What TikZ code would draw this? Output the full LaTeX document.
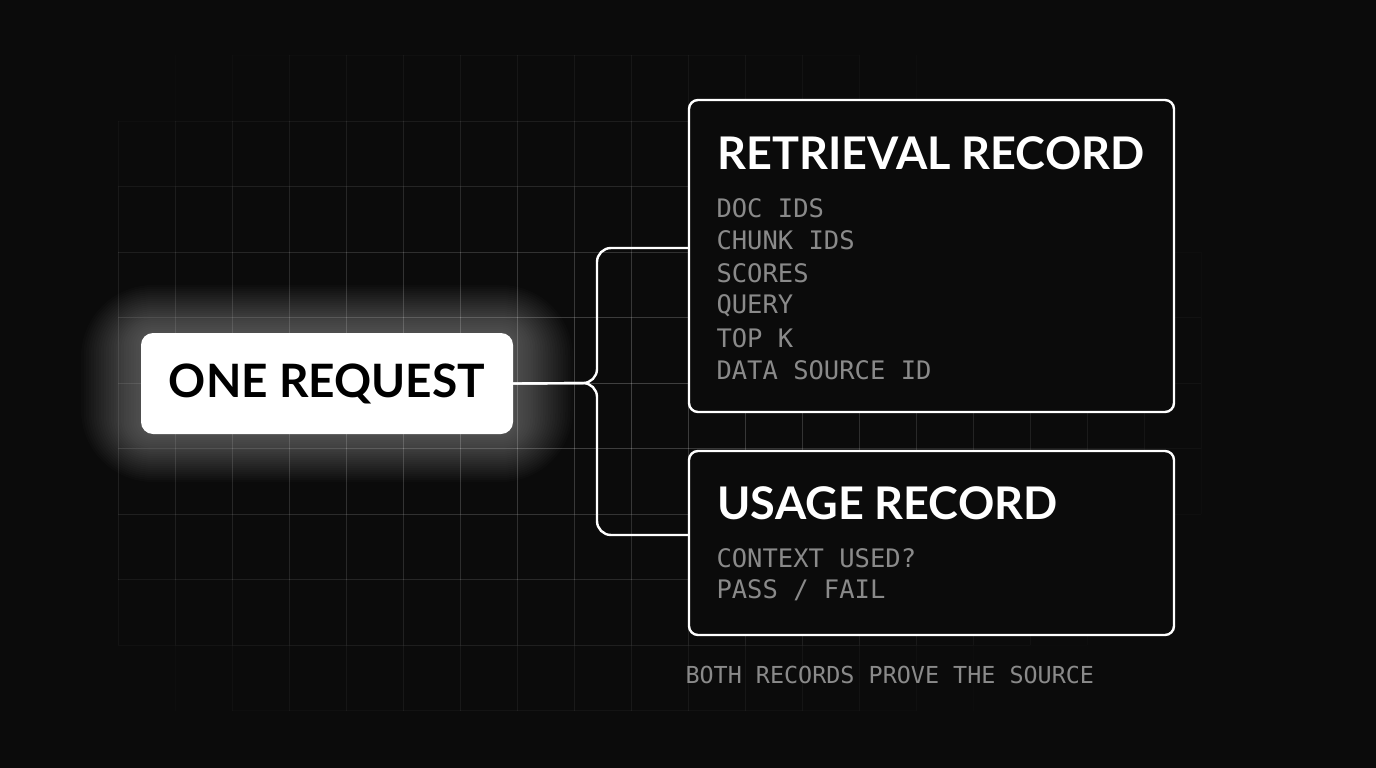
\documentclass[tikz,border=0pt]{standalone}
\usepackage{fontspec}
\setmainfont{Lato}
\newfontfamily\monof{DejaVu Sans Mono}
\definecolor{bg}{HTML}{0B0B0B}
\definecolor{itemc}{HTML}{8A8A8A}
\tikzset{
  box/.style={draw=white, line width=2.4pt, rounded corners=9pt, fill=bg},
  conn/.style={draw=white, line width=2.4pt, rounded corners=14pt},
  title/.style={anchor=west, text=white, font=\fontsize{45}{45}\selectfont\bfseries},
  item/.style={anchor=west, text=itemc, font=\monof\fontsize{25.5}{25.5}\selectfont},
}
\begin{document}
\begin{tikzpicture}[x=1pt,y=-1pt]
\fill[bg] (0,0) rectangle (1376,768);
\useasboundingbox (0,0) rectangle (1376,768);
% faded grid
\foreach \i in {-7,...,12} {
  \foreach \j in {-5,...,4} {
    \pgfmathsetmacro{\xa}{517+57*\i}
    \pgfmathsetmacro{\ya}{383+65.5*\j}
    \pgfmathsetmacro{\dd}{sqrt(((\xa+0-560)/620)^2+((\ya+33-390)/330)^2)}
    \pgfmathsetmacro{\op}{max(0,min(1,1.15-\dd))*0.22}
    \draw[white, opacity=\op, line width=1pt] (\xa,\ya) -- (\xa,\ya+65.5);
  }
}
\foreach \j in {-5,...,5} {
  \foreach \i in {-7,...,11} {
    \pgfmathsetmacro{\xa}{517+57*\i}
    \pgfmathsetmacro{\ya}{383+65.5*\j}
    \pgfmathsetmacro{\dd}{sqrt(((\xa+28-560)/620)^2+((\ya-390)/330)^2)}
    \pgfmathsetmacro{\op}{max(0,min(1,1.15-\dd))*0.22}
    \draw[white, opacity=\op, line width=1pt] (\xa,\ya) -- (\xa+57,\ya);
  }
}
% glow
\foreach \k in {1,...,24}
  \fill[white, opacity=0.016, rounded corners={12+2.5*\k}] ({141-2.5*\k},{333-2*\k}) rectangle ({513+2.5*\k},{434+2*\k});
\node[draw=none, fill=white, rounded corners=12pt, minimum width=372pt, minimum height=101pt, inner sep=0pt] (req) at (327,383.5) {};
\node[text=black, font=\fontsize{46}{46}\selectfont\bfseries] at (req) {ONE REQUEST};
\node[box, minimum width=485pt, minimum height=312pt, inner sep=0pt] (ret) at (931.5,256) {};
\node[box, minimum width=485pt, minimum height=184pt, inner sep=0pt] (use) at (931.5,543) {};
\coordinate (j1) at (689,248);
\coordinate (j2) at (689,535);
\draw[conn] (req.east) -- (597,383) |- (j1);
\draw[conn] (req.east) -- (597,383) |- (j2);
\node[title] at (714,153) {RETRIEVAL RECORD};
\foreach \t [count=\n from 0] in {DOC IDS,CHUNK IDS,SCORES,QUERY,TOP K,DATA SOURCE ID}
  \node[item] at (713,{208+32.5*\n}) {\t};
\node[title] at (714,503) {USAGE RECORD};
\node[item] at (713,558) {CONTEXT USED?};
\node[item] at (713,590) {PASS / FAIL};
\node[anchor=west, text=itemc, font=\monof\fontsize{23.4}{23.4}\selectfont] at (682,675) {BOTH RECORDS PROVE THE SOURCE};
\end{tikzpicture}
\end{document}
